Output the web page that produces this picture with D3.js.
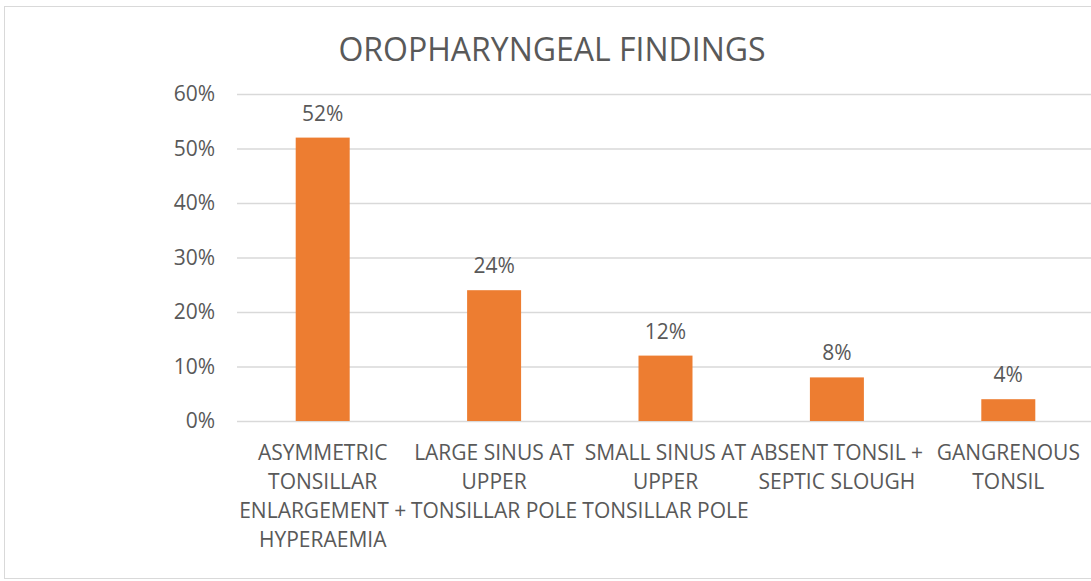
<!DOCTYPE html>
<html>
<head>
<meta charset="utf-8">
<script src="https://cdn.jsdelivr.net/npm/d3@7"></script>
<style>
  body { margin: 0; background: #fff; }
  text { font-family: 'Open Sans', sans-serif; fill: #595959; }
</style>
</head>
<body>
<div id="chart"></div>
<script>
const categories = [
    ['ASYMMETRIC', 'TONSILLAR', 'ENLARGEMENT +', 'HYPERAEMIA'],
    ['LARGE SINUS AT', 'UPPER', 'TONSILLAR POLE'],
    ['SMALL SINUS AT', 'UPPER', 'TONSILLAR POLE'],
    ['ABSENT TONSIL +', 'SEPTIC SLOUGH'],
    ['GANGRENOUS', 'TONSIL']
]
const values = [0.52, 0.24, 0.12, 0.08, 0.04]
const yTicks = [0, 0.1, 0.2, 0.3, 0.4, 0.5, 0.6]
const title = 'OROPHARYNGEAL FINDINGS'

const width = 1091
const height = 581
const plotLeft = 237
const plotRight = 1094
const plotTop = 94
const plotBottom = 421

const pct = d3.format('.0%')
const xScale = d3.scaleBand().domain(d3.range(values.length)).range([plotLeft, plotRight]).paddingInner(0.685).paddingOuter(0.3425)
const yScale = d3.scaleLinear().domain([0, 0.6]).range([plotBottom, plotTop])

const svg = d3.select('#chart')
    .append('svg')
    .attr('width', width)
    .attr('height', height)

svg.append('rect')
    .attr('x', 4.5)
    .attr('y', 6.5)
    .attr('width', width)
    .attr('height', 572)
    .attr('fill', 'none')
    .attr('stroke', '#d9d9d9')

svg.append('text')
    .attr('x', 552)
    .attr('y', 61)
    .attr('text-anchor', 'middle')
    .style('font-size', '32px')
    .text(title)

// gridlines + y labels
const yAxis = d3.axisRight(yScale).tickValues(yTicks).tickFormat(pct).tickSize(plotRight - plotLeft).tickPadding(0)
svg.append('g')
    .attr('transform', `translate(${plotLeft}, 0)`)
    .call(yAxis)
    .call((g) => g.select('.domain').remove())
    .call((g) => g.selectAll('line').attr('stroke', '#d9d9d9').attr('stroke-width', 1.3))
    .call((g) => g.selectAll('text').style('font-size', '21px').attr('fill', '#595959').attr('x', -22).attr('text-anchor', 'end'))

svg.selectAll('.bar')
    .data(values)
    .enter()
    .append('rect')
    .attr('class', 'bar')
    .attr('x', (d, i) => xScale(i))
    .attr('y', (d) => yScale(d))
    .attr('width', xScale.bandwidth())
    .attr('height', (d) => yScale(0) - yScale(d))
    .attr('fill', '#ed7d31')

svg.selectAll('.val')
    .data(values)
    .enter()
    .append('text')
    .attr('class', 'val')
    .attr('x', (d, i) => xScale(i) + xScale.bandwidth() / 2)
    .attr('y', (d) => yScale(d) - 17)
    .attr('text-anchor', 'middle')
    .style('font-size', '21px')
    .text((d) => pct(d))

categories.forEach((lines, i) => {
    const t = svg.append('text')
        .attr('text-anchor', 'middle')
        .style('font-size', '21px')
    lines.forEach((line, j) => {
        t.append('tspan')
            .attr('x', xScale(i) + xScale.bandwidth() / 2)
            .attr('y', 460 + j * 29)
            .text(line)
    })
})
</script>
</body>
</html>
